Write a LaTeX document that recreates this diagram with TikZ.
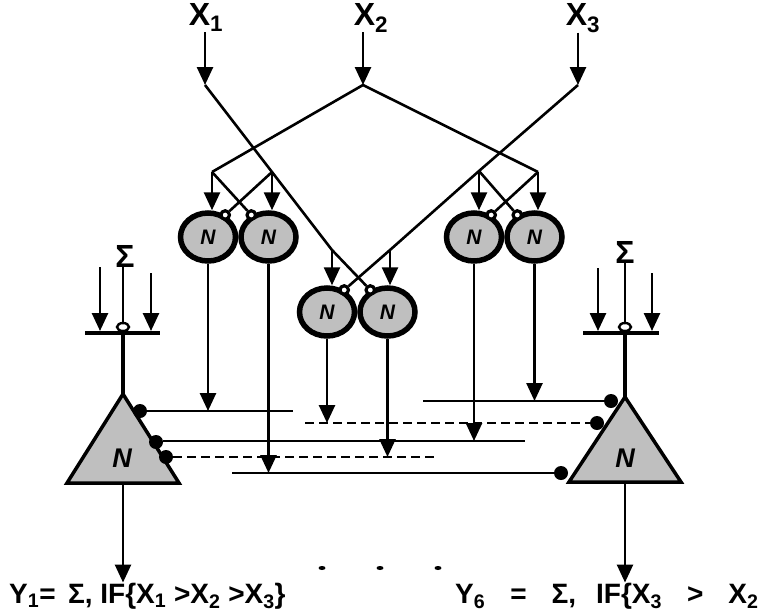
\documentclass[tikz,border=0pt]{standalone}
\usepackage{fontspec}
\setmainfont{Liberation Sans}
\usetikzlibrary{arrows.meta,positioning,shapes.geometric}

\tikzset{
  wire/.style={line width=2.6pt},
  arr/.style={wire, -{Triangle[length=18pt,width=16pt]}},
  neuron/.style={ellipse, draw, line width=5.5pt, fill=black!25,
    minimum width=55pt, minimum height=48pt, inner sep=0pt,
    font=\bfseries\itshape\fontsize{21}{21}\selectfont},
  inhib/.style={circle, draw, line width=3.2pt, fill=white,
    minimum size=8.5pt, inner sep=0pt},
  synapse/.style={circle, fill=black, minimum size=14pt, inner sep=0pt},
  soma/.style={draw, line width=3.5pt, fill=black!25},
  gate/.style={ellipse, draw, line width=2.4pt, fill=white,
    minimum width=12pt, minimum height=8pt, inner sep=0pt},
  inlab/.style={inner sep=0pt, font=\bfseries\fontsize{32}{32}\selectfont},
  outlab/.style={inner sep=0pt, font=\bfseries\fontsize{28}{28}\selectfont},
}

\begin{document}
\begin{tikzpicture}[x=1pt, y=-1pt]
\useasboundingbox (0,0) rectangle (761,611);
\clip (0,0) rectangle (761,611);

% inputs
\node[inlab, anchor=base] (x1) at (206,25) {X\textsubscript{1}};
\node[inlab, anchor=base] (x2) at (371,25) {X\textsubscript{2}};
\node[inlab, anchor=base] (x3) at (583,25) {X\textsubscript{3}};
\coordinate (j1) at (205,85);
\coordinate (j2) at (363,85);
\coordinate (j3) at (578,85);
\draw[arr] (j1 |- x1.south) -- (j1);
\draw[arr] (j2 |- x2.south) -- (j2);
\draw[arr] (j3 |- x3.south) -- (j3);

% comparing pairs
\node[neuron] (ll) at (208,237) {N};
\node[neuron, right=0pt of ll] (lr) {N};
\node[neuron] (ml) at (327,312) {N};
\node[neuron, right=0pt of ml] (mr) {N};
\node[neuron] (rl) at (474,237) {N};
\node[neuron, right=0pt of rl] (rr) {N};

\node[inhib] (ill) at (ll.52) {};
\node[inhib] (ilr) at (lr.128) {};
\node[inhib] (iml) at (ml.52) {};
\node[inhib] (imr) at (mr.128) {};
\node[inhib] (irl) at (rl.52) {};
\node[inhib] (irr) at (rr.128) {};

% branch points
\coordinate (la) at (212,172);
\coordinate (lb) at (272,172);
\coordinate (ma) at (332,250);
\coordinate (mb) at (390,250);
\coordinate (ra) at (479,171);
\coordinate (rb) at (538,172);

\draw[wire] (j1) -- (lb) -- (ma) -- (imr);
\draw[wire] (j3) -- (ra) -- (mb) -- (iml);
\draw[wire] (la) -- (j2) -- (rb);

\draw[arr] (la) -- (la |- ll.north);
\draw[arr] (lb) -- (lb |- lr.north);
\draw[wire] (la) -- (ilr);
\draw[wire] (lb) -- (ill);
\draw[arr] (ma) -- (ma |- ml.north);
\draw[arr] (mb) -- (mb |- mr.north);
\draw[arr] (ra) -- (ra |- rl.north);
\draw[arr] (rb) -- (rb |- rr.north);
\draw[wire] (ra) -- (irr);
\draw[wire] (rb) -- (irl);

% output neurons
\coordinate (lapex) at (123,394);
\coordinate (lbase) at (123,483);
\coordinate (rapex) at (625,397);
\coordinate (rbase) at (625,482);
\draw[soma] (67,483) -- (lapex) -- (179,483) -- cycle;
\draw[soma] (569,482) -- (rapex) -- (681,482) -- cycle;
\node[font=\bfseries\itshape\fontsize{27}{27}\selectfont] (ln) at (122,458) {N};
\node[font=\bfseries\itshape\fontsize{27}{27}\selectfont] (rn) at (625,458) {N};

\node[synapse] (ld1) at (140,411) {};
\node[synapse] (ld2) at (156,442) {};
\node[synapse] (ld3) at (166,457) {};
\node[synapse] (rd1) at (611,401) {};
\node[synapse] (rd2) at (597,423) {};
\node[synapse] (rd3) at (561,473) {};

% lines between the layers
\coordinate (e1) at (293,411);
\coordinate (e2) at (305,423);
\coordinate (e3) at (525,441);
\coordinate (e4) at (438,457);
\coordinate (e5) at (232,473);
\coordinate (e6) at (423,401);
\draw[wire] (ld1) -- (e1);
\draw[wire, dash pattern=on 9pt off 5pt] (e2) -- (rd2);
\draw[wire] (ld2.east |- e3) -- (e3);
\draw[wire, dash pattern=on 9pt off 5pt] (ld3) -- (e4);
\draw[wire] (e5) -- (rd3);
\draw[wire] (e6) -- (rd1);

\draw[arr] (ll.south) -- (ll.south |- e1);
\draw[arr] (lr.south) -- (lr.south |- e5);
\draw[arr] (ml.south) -- (ml.south |- e2);
\draw[arr] (mr.south) -- (mr.south |- e4);
\draw[arr] (rl.south) -- (rl.south |- e3);
\draw[arr] (rr.south) -- (rr.south |- e6);

% summing inputs
\node[inlab] (ls) at (125,256) {Σ};
\node[inlab] (rs) at (625,252) {Σ};
\node[gate] (lg) at (123,327) {};
\node[gate] (rg) at (625,327) {};
\draw[line width=3.2pt] (85,333) -- (160,333);
\draw[line width=3.2pt] (583,333) -- (659,333);
\foreach \x/\y in {100/267, 151/273, 598/268, 652/273}
  \draw[arr] (\x,\y) -- (\x,331);
\draw[wire] (lg |- ls.south) -- (lg);
\draw[wire] (rs) -- (rg);
\draw[line width=3.2pt] (lg.south) -- (lapex);
\draw[line width=3.2pt] (rg.south) -- (rapex);

% results
\node[outlab, anchor=base west] (y1) at (9,603)
  {Y\textsubscript{1}= \,Σ, IF\{X\textsubscript{1} >X\textsubscript{2} >X\textsubscript{3}\}};
\node[outlab, anchor=base west] (y6) at (455,603)
  {Y\textsubscript{6}\hspace{25pt}=\hspace{25pt}Σ,\hspace{20pt}IF\{X\textsubscript{3}\hspace{25pt}>\hspace{25pt}X\textsubscript{2}};
\draw[arr] (lbase) -- (lbase |- y1.north);
\draw[arr] (rbase) -- (rbase |- y6.north);
\foreach \x in {322,380,438}
  \fill (\x,568) ellipse [x radius=3.5pt, y radius=2pt];
\end{tikzpicture}
\end{document}
